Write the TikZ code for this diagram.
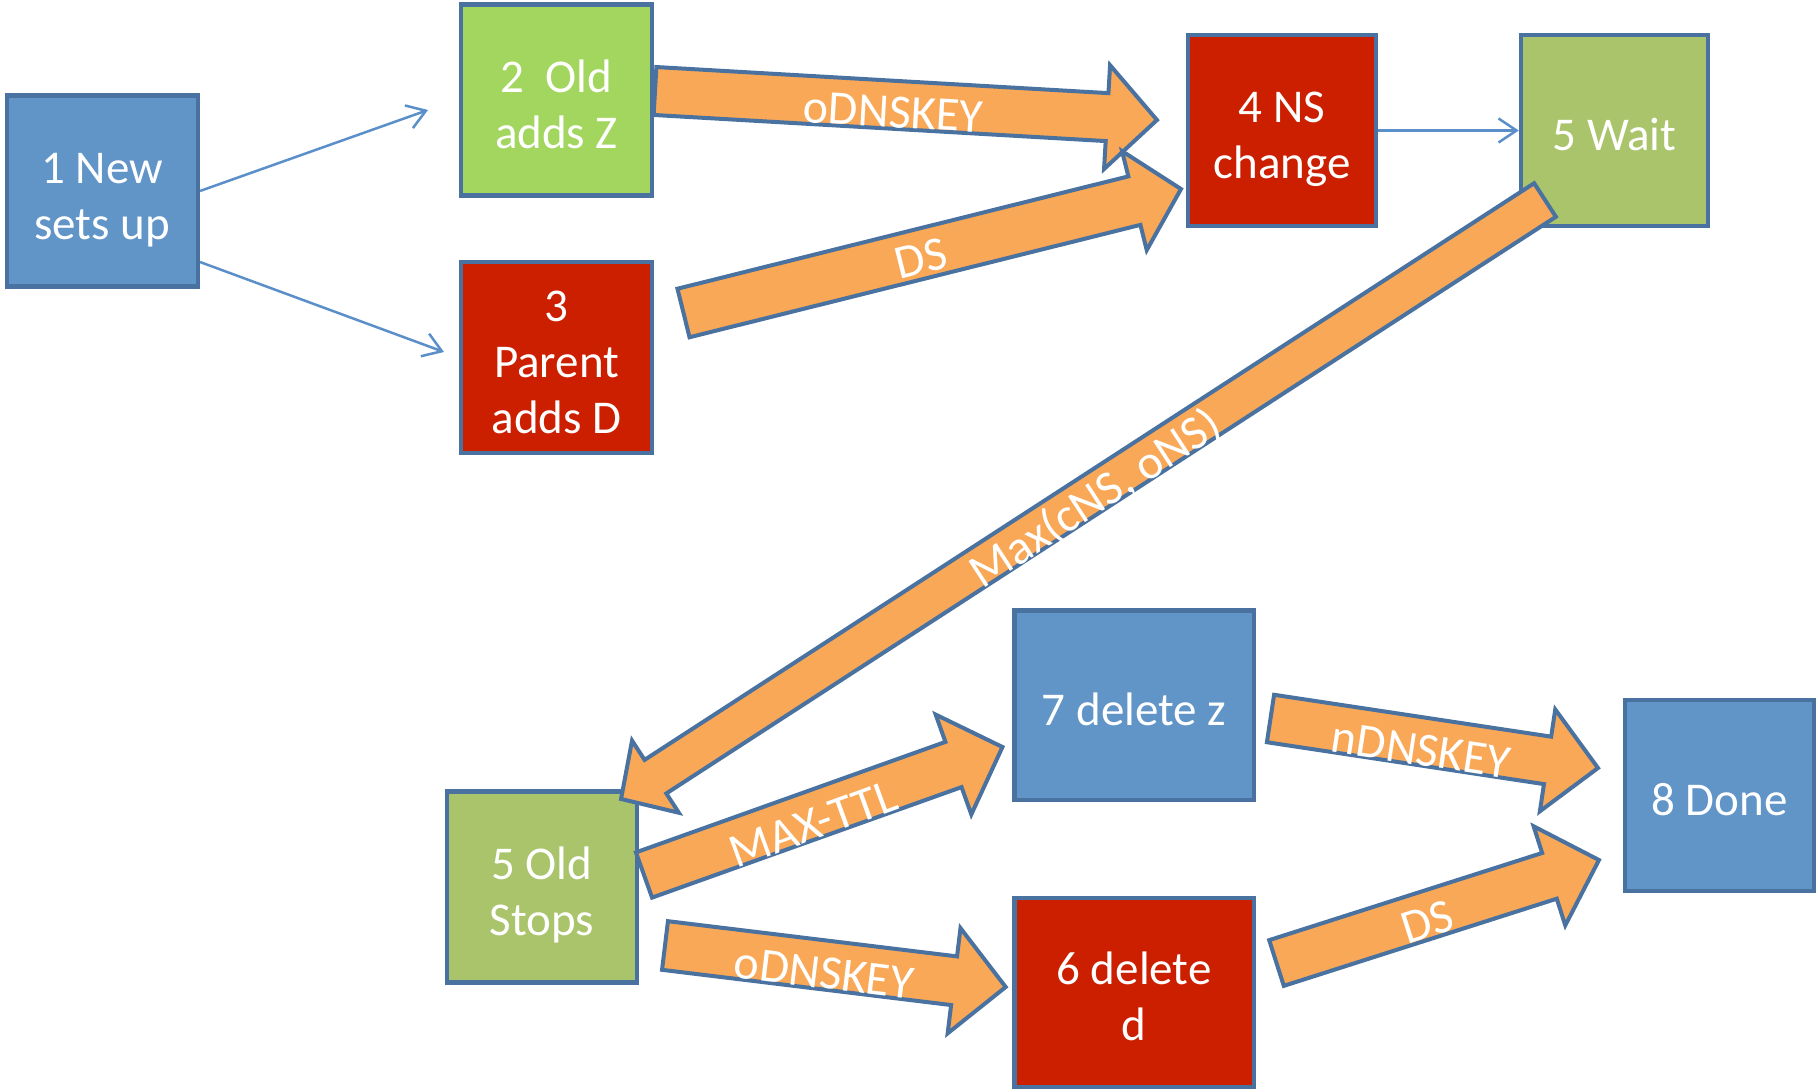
\documentclass[tikz,border=0pt]{standalone}
\usepackage{fontspec}
\setmainfont{Carlito}
\usetikzlibrary{calc,arrows.meta}
\definecolor{bblue}{HTML}{6195C8}
\definecolor{bred}{HTML}{CC1F00}
\definecolor{bgreen}{HTML}{A2D65F}
\definecolor{bolive}{HTML}{AAC46C}
\definecolor{bord}{HTML}{4A72A0}
\definecolor{aorange}{HTML}{F9A857}
\definecolor{thinblue}{HTML}{5B8FCA}
\newcommand{\sttop}{\rule{0pt}{50pt}}
\newcommand{\stbot}{\rule[-10pt]{0pt}{0pt}}
\tikzset{
  box/.style={draw=bord, line width=4.5pt, text=white, align=center, inner sep=0pt,
    font=\fontsize{47}{56}\selectfont, minimum width=191pt, minimum height=191pt},
  barrow/.style={draw=bord, fill=aorange, line width=4pt, line join=miter},
  lbl/.style={text=white, inner sep=0pt, font=\fontsize{48}{56}\selectfont},
  thin/.style={draw=thinblue, line width=2.5pt, -{Straight Barb[length=18pt,width=24pt]}}
}
\newcommand{\blockarrow}[5]{%
  \path let \p1=($(#2)-(#1)$), \n1={atan2(\y1,\x1)}, \n2={veclen(\x1,\y1)} in
    \pgfextra{\xdef\baang{\n1}\xdef\balen{\n2}};
  \begin{scope}[shift={(#1)}, rotate=\baang]
    \draw[barrow] (0,-#3) -- ({\balen-#5},-#3) -- ({\balen-#5},-#4) -- (\balen,0)
      -- ({\balen-#5},#4) -- ({\balen-#5},#3) -- (0,#3) -- cycle;
  \end{scope}}
\begin{document}
\begin{tikzpicture}[x=1pt,y=-1pt]
\useasboundingbox[fill=white] (0,0) rectangle (1818,1092);
% boxes
\node[box, fill=bblue] (b1) at (102.25,191) {\sttop 1 New\\sets up\stbot};
\node[box, fill=bgreen] (b2) at (556.5,100) {\sttop 2\ \ Old\\adds Z\stbot};
\node[box, fill=bred] (b3) at (556.5,357.5) {\sttop 3\\Parent\\adds D\stbot};
\node[box, fill=bred, minimum width=188pt] (b4) at (1282,130.5) {\sttop 4 NS\\change\stbot};
\node[box, fill=bolive, minimum width=187pt] (b5) at (1614.5,130.5) {\sttop 5 Wait\stbot};
\node[box, fill=bolive, minimum width=190pt] (b5b) at (541.75,887) {\sttop 5 Old\\Stops\stbot};
\node[box, fill=bblue, minimum width=239.5pt, minimum height=189.5pt] (b7) at (1134,705) {\sttop 7 delete z\stbot};
\node[box, fill=bred, minimum width=239.5pt, minimum height=189pt] (b6) at (1134,992.5) {\sttop 6 delete\\d\stbot};
\node[box, fill=bblue, minimum width=189pt] (b8) at (1719.5,795.5) {\sttop 8 Done\stbot};
% thin connectors
\coordinate (c12) at (428,110);
\coordinate (c13) at (444,352);
\draw[thin] (b1.east) -- (c12);
\draw[thin] ([yshift=-71pt]b1.east) -- (c13);
\draw[thin] (b4.east) -- (b5.west);
% block arrow end points
\coordinate (aS) at (655,91);     \coordinate (aT) at (1157,120);
\coordinate (bS) at (683.5,313);  \coordinate (bT) at (1181,189);
\coordinate (cS) at (1545,200);   \coordinate (cT) at (621,799);
\coordinate (dS) at (644,875);    \coordinate (dT) at (1002.5,747);
\coordinate (eS) at (665,945.5);  \coordinate (eT) at (1005.7,987);
\coordinate (fS) at (1270.5,718.5); \coordinate (fT) at (1598,768);
\coordinate (gS) at (1276.5,963); \coordinate (gT) at (1599,860);
\blockarrow{aS}{aT}{24}{52}{50}
\blockarrow{bS}{bT}{25}{51}{48}
\blockarrow{cS}{cT}{20}{43}{41}
\blockarrow{dS}{dT}{24}{53}{52}
\blockarrow{eS}{eT}{24.5}{53}{52}
\blockarrow{fS}{fT}{24}{51.5}{51}
\blockarrow{gS}{gT}{24}{52}{52}
% labels
\node[lbl, rotate=-3.3] (la) at (893,112) {oDNSKEY};
\node[lbl, rotate=14] (lb) at (921,258) {DS};
\node[lbl, rotate=33] (lc) at (1096,499) {Max(cNS, oNS)};
\node[lbl, rotate=20] (ld) at (813,824) {MAX-TTL};
\node[lbl, rotate=-7] (le) at (824,973) {oDNSKEY};
\node[lbl, rotate=-8.6] (lf) at (1421,750) {nDNSKEY};
\node[lbl, rotate=17.7] (lg) at (1427,922) {DS};
\end{tikzpicture}
\end{document}
